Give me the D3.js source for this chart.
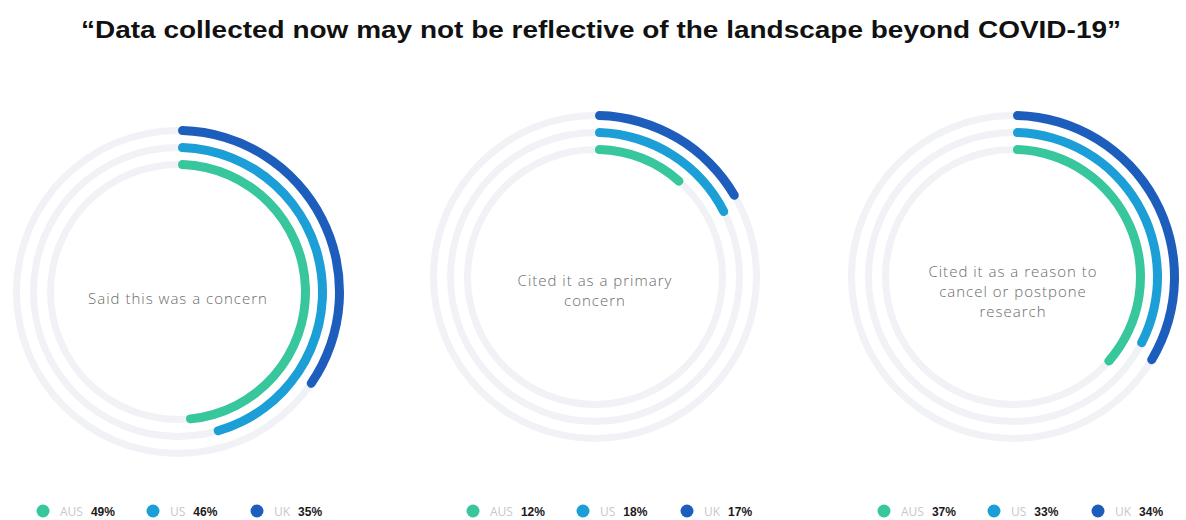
<!DOCTYPE html>
<html>
<head>
<meta charset="utf-8">
<script src="https://cdn.jsdelivr.net/npm/d3@7"></script>
<style>
  html, body { margin: 0; padding: 0; background: #ffffff; }
  svg { display: block; }
</style>
</head>
<body>
<svg id="chart" width="1186" height="520"></svg>
<script>
// Survey data: share of respondents per country, three questions
const countries = ["AUS", "US", "UK"];
const questions = [
  ["Said this was a concern"],
  ["Cited it as a primary", "concern"],
  ["Cited it as a reason to", "cancel or postpone", "research"]
];
const ausValues = [49, 12, 37];
const usValues  = [46, 18, 33];
const ukValues  = [35, 17, 34];
const seriesValues = [ausValues, usValues, ukValues];
const countryColors = ["#38c69c", "#1c9fd6", "#1d5ebd"];

const title = "\u201CData collected now may not be reflective of the landscape beyond COVID-19\u201D";

const W = 1186, H = 520;
const svg = d3.select("#chart");

// Title
svg.append("text")
  .attr("x", W / 2 + 8)
  .attr("y", 38)
  .attr("text-anchor", "middle")
  .attr("font-family", "'Liberation Sans', Arial, sans-serif")
  .attr("font-weight", "bold")
  .attr("font-size", 23)
  .attr("fill", "#111")
  .attr("textLength", 1040)
  .attr("lengthAdjust", "spacingAndGlyphs")
  .text(title);

// Layout of the three ring charts
const centersX = [178, 595, 1013];
const centersY = [292, 277, 277];
const captionBaselines = [[304], [286, 306], [277, 297, 317]];
const legendX = [36, 466, 877];

const angle = d3.scaleLinear().domain([0, 100]).range([0, 2 * Math.PI]);
const radii = [132, 149, 166]; // outer edge of AUS, US, UK rings
const ringWidth = 9;

const arcGen = d3.arc().cornerRadius(ringWidth / 2);

questions.forEach((lines, qi) => {
  const g = svg.append("g")
    .attr("transform", `translate(${centersX[qi]},${centersY[qi]})`);

  countries.forEach((c, ci) => {
    const outer = radii[ci];
    const inner = outer - ringWidth;
    // pale full-circle track
    g.append("path")
      .attr("d", d3.arc()({ innerRadius: inner + 1, outerRadius: outer - 1, startAngle: 0, endAngle: 2 * Math.PI }))
      .attr("fill", "#f0f2f6");
    // value arc, clockwise from 12 o'clock
    g.append("path")
      .attr("d", arcGen({
        innerRadius: inner, outerRadius: outer,
        startAngle: 0, endAngle: angle(seriesValues[ci][qi])
      }))
      .attr("fill", countryColors[ci]);
  });

  // centre caption
  lines.forEach((ln, li) => {
    svg.append("text")
      .attr("x", centersX[qi])
      .attr("y", captionBaselines[qi][li])
      .attr("text-anchor", "middle")
      .attr("font-family", "'Open Sans', 'Noto Sans', sans-serif")
      .attr("font-weight", 300)
      .attr("font-size", 15)
      .attr("letter-spacing", "1")
      .attr("fill", "#6a6a6a")
      .text(ln);
  });

  // legend row
  const lg = svg.append("g").attr("transform", `translate(${legendX[qi]},511)`);
  let x = 0;
  countries.forEach((c, ci) => {
    lg.append("circle").attr("cx", x + 7).attr("cy", 0).attr("r", 6.5).attr("fill", countryColors[ci]);
    const lab = lg.append("text")
      .attr("x", x + 24).attr("y", 4.5)
      .attr("font-family", "'Open Sans', sans-serif")
      .attr("font-size", 12)
      .attr("fill", "#c4c8cf")
      .text(c);
    const lw = lab.node().getComputedTextLength();
    lg.append("text")
      .attr("x", x + 24 + lw + 8).attr("y", 4.5)
      .attr("font-family", "'Liberation Sans', Arial, sans-serif")
      .attr("font-weight", "bold")
      .attr("font-size", 12)
      .attr("fill", "#1a1a1a")
      .text(seriesValues[ci][qi] + "%");
    x += (ci === 0 ? 110 : 104);
  });
});
</script>
</body>
</html>
